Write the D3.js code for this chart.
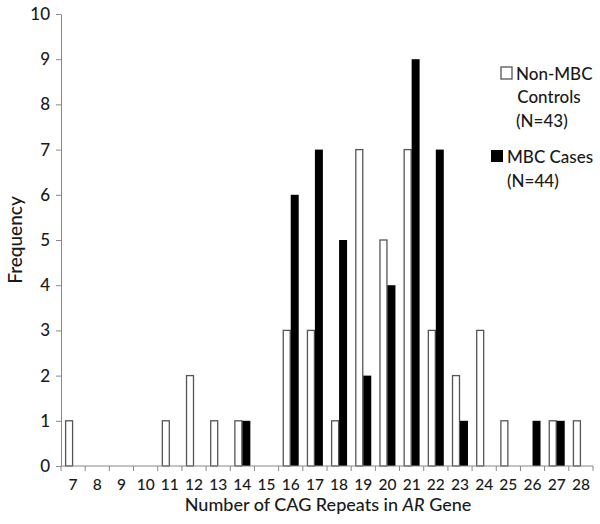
<!DOCTYPE html>
<meta charset="utf-8">
<html>

<head>
    <title>CAG repeats histogram</title>
    <style>
        body { margin: 0; background: #fff; }
        text { font-family: Lato, "Open Sans", sans-serif; fill: #1a1a1a; }
    </style>
</head>

<body>
    <div id="container"></div>

    <script src="https://d3js.org/d3.v7.min.js"></script>

    <script>
        // data
        const repeats = [7, 8, 9, 10, 11, 12, 13, 14, 15, 16, 17, 18, 19, 20, 21, 22, 23, 24, 25, 26, 27, 28];
        const controls = [1, 0, 0, 0, 1, 2, 1, 1, 0, 3, 3, 1, 7, 5, 7, 3, 2, 3, 1, 0, 1, 1];
        const cases = [0, 0, 0, 0, 0, 0, 0, 1, 0, 6, 7, 5, 2, 4, 9, 7, 1, 0, 0, 1, 1, 0];
        const yTicks = [0, 1, 2, 3, 4, 5, 6, 7, 8, 9, 10];
        const seriesNames = ["controls", "cases"];

        const width = 600,
            height = 524;
        const margin = { left: 61, right: 7, top: 14, bottom: 58 };

        const svg = d3.select("#container").append("svg")
            .attr("width", width)
            .attr("height", height);

        const x = d3.scaleBand()
            .domain(repeats)
            .range([margin.left, width - margin.right]);

        const inner = d3.scaleBand()
            .domain(seriesNames)
            .range([x.bandwidth() * 0.17, x.bandwidth() * 0.83]);

        const y = d3.scaleLinear()
            .domain([0, 10])
            .range([height - margin.bottom, margin.top]);

        // bars
        const rows = repeats.map((r, i) => ({ r: r, controls: controls[i], cases: cases[i] }));

        svg.append("g")
            .selectAll("rect")
            .data(rows.filter(d => d.controls > 0))
            .join("rect")
            .attr("x", d => x(d.r) + inner("controls") + 0.5)
            .attr("y", d => y(d.controls))
            .attr("width", inner.bandwidth() - 1)
            .attr("height", d => y(0) - y(d.controls))
            .attr("fill", "#fff")
            .attr("stroke", "#555")
            .attr("stroke-width", 1.3);

        svg.append("g")
            .selectAll("rect")
            .data(rows.filter(d => d.cases > 0))
            .join("rect")
            .attr("x", d => x(d.r) + inner("cases"))
            .attr("y", d => y(d.cases))
            .attr("width", inner.bandwidth())
            .attr("height", d => y(0) - y(d.cases))
            .attr("fill", "#000");

        // y axis
        const yAxis = svg.append("g")
            .attr("transform", `translate(${margin.left},0)`)
            .call(d3.axisLeft(y).tickValues(yTicks).tickSize(5).tickSizeOuter(0).tickPadding(6));
        yAxis.selectAll("text").style("font-size", "17px").style("font-weight", "500");

        // x axis: ticks at band edges, labels centred in bands
        const xAxis = svg.append("g")
            .attr("transform", `translate(0,${y(0)})`);
        xAxis.append("line")
            .attr("x1", x.range()[0])
            .attr("x2", x.range()[1])
            .attr("stroke", "#888");
        xAxis.selectAll("line.tick")
            .data(repeats.concat(["end"]))
            .join("line")
            .attr("class", "tick")
            .attr("x1", d => d === "end" ? x.range()[1] : x(d))
            .attr("x2", d => d === "end" ? x.range()[1] : x(d))
            .attr("y1", 0)
            .attr("y2", 5)
            .attr("stroke", "#888");
        xAxis.selectAll("text")
            .data(repeats)
            .join("text")
            .attr("x", d => x(d) + x.bandwidth() / 2)
            .attr("y", 24)
            .attr("text-anchor", "middle")
            .style("font-size", "15.5px")
            .style("font-weight", "500")
            .text(d => d);

        yAxis.selectAll("line").attr("stroke", "#888");
        yAxis.select(".domain").attr("stroke", "#888");
        yAxis.selectAll("text").attr("fill", "#1a1a1a");

        // axis titles
        const xTitle = svg.append("text")
            .attr("x", 328)
            .attr("y", 511)
            .attr("text-anchor", "middle")
            .style("font-size", "18px")
            .style("font-weight", "500");
        xTitle.append("tspan").text("Number of CAG Repeats in ");
        xTitle.append("tspan").style("font-style", "italic").text("AR");
        xTitle.append("tspan").text(" Gene");

        svg.append("text")
            .attr("transform", `translate(22,${(y(0) + y(10)) / 2}) rotate(-90)`)
            .attr("text-anchor", "middle")
            .style("font-size", "19px")
            .style("font-weight", "500")
            .text("Frequency");

        // legend
        const legend = svg.append("g").style("font-size", "17px").style("font-weight", "500");
        legend.append("rect")
            .attr("x", 501).attr("y", 67).attr("width", 11).attr("height", 12)
            .attr("fill", "#fff").attr("stroke", "#555").attr("stroke-width", 1.3);
        legend.append("text").attr("x", 516).attr("y", 80).text("Non-MBC");
        legend.append("text").attr("x", 549).attr("y", 103).attr("text-anchor", "middle").text("Controls");
        legend.append("text").attr("x", 516).attr("y", 127).text("(N=43)");

        legend.append("rect")
            .attr("x", 491).attr("y", 150).attr("width", 12).attr("height", 12)
            .attr("fill", "#000");
        legend.append("text").attr("x", 507).attr("y", 163).text("MBC Cases");
        legend.append("text").attr("x", 507).attr("y", 187).text("(N=44)");
    </script>
</body>

</html>
